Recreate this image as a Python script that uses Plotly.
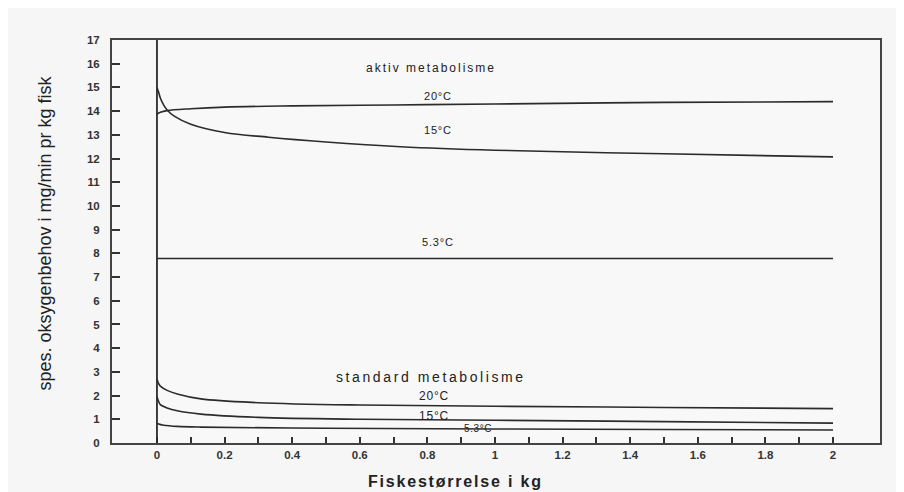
import plotly.graph_objects as go

# ---- data ----
aktiv_20_x = [0.0, 0.01, 0.03, 0.1, 0.2, 0.4, 0.7, 1.0, 1.5, 2.0]
aktiv_20_y = [13.88, 13.95, 14.02, 14.1, 14.17, 14.22, 14.26, 14.3, 14.37, 14.4]

aktiv_15_x = [0.0, 0.005, 0.01, 0.02, 0.03, 0.05, 0.1, 0.2, 0.33, 0.5, 0.72, 1.0, 1.5, 2.0]
aktiv_15_y = [15.0, 14.8, 14.55, 14.25, 14.05, 13.8, 13.45, 13.1, 12.9, 12.7, 12.5, 12.35, 12.2, 12.07]

aktiv_53_x = [0.0, 2.0]
aktiv_53_y = [7.78, 7.78]

std_20_x = [0.0, 0.005, 0.01, 0.03, 0.06, 0.13, 0.3, 0.6, 1.0, 1.5, 2.0]
std_20_y = [2.7, 2.5, 2.4, 2.22, 2.07, 1.86, 1.7, 1.6, 1.55, 1.5, 1.45]

std_15_x = [0.0, 0.005, 0.01, 0.03, 0.06, 0.13, 0.3, 0.6, 1.0, 1.5, 2.0]
std_15_y = [1.95, 1.75, 1.62, 1.48, 1.36, 1.22, 1.08, 1.0, 0.96, 0.9, 0.84]

std_53_x = [0.0, 0.005, 0.02, 0.06, 0.13, 0.5, 1.0, 1.5, 2.0]
std_53_y = [0.84, 0.8, 0.75, 0.7, 0.67, 0.62, 0.59, 0.57, 0.55]

x_tickvals = [round(i * 0.1, 1) for i in range(21)]
x_ticktext = ["0", "", "0.2", "", "0.4", "", "0.6", "", "0.8", "", "1", "", "1.2", "", "1.4", "", "1.6", "", "1.8", "", "2"]
y_tickvals = list(range(0, 18))

# text, x, y, font size, letter spacing (px)
labels = [
    ("aktiv metabolisme", 0.81, 15.8, 12, 2.0),
    ("20°C", 0.83, 14.64, 11, 0.8),
    ("15°C", 0.83, 13.2, 11, 0.8),
    ("5.3°C", 0.83, 8.5, 11, 0.8),
    ("standard metabolisme", 0.81, 2.78, 14, 2.6),
    ("20°C", 0.82, 1.98, 12, 0.8),
    ("15°C", 0.82, 1.14, 12, 0.8),
    ("5.3°C", 0.95, 0.6, 10, 0.6),
]

line_col = "#2b2b2b"
txt_col = "#222222"
fig = go.Figure()
for xs, ys in [(aktiv_20_x, aktiv_20_y), (aktiv_15_x, aktiv_15_y), (aktiv_53_x, aktiv_53_y),
               (std_20_x, std_20_y), (std_15_x, std_15_y), (std_53_x, std_53_y)]:
    fig.add_trace(go.Scatter(x=xs, y=ys, mode="lines", line=dict(color=line_col, width=1.6),
                             line_shape="spline", showlegend=False, hoverinfo="skip"))

# vertical line at x = 0 (curves rising towards the top)
fig.add_shape(type="line", xref="x", yref="y", x0=0, x1=0, y0=0, y1=17,
              line=dict(color=line_col, width=1.8))

for text, x, y, size, ls in labels:
    fig.add_annotation(x=x, y=y, xref="x", yref="y",
                       text=f'<span style="letter-spacing:{ls}px">{text}</span>',
                       showarrow=False,
                       font=dict(size=size, color=txt_col, family="Liberation Sans"))

fig.add_annotation(x=-0.087, y=0.52, xref="paper", yref="paper",
                   text="spes. oksygenbehov i mg/min pr kg fisk", textangle=-90,
                   showarrow=False, xanchor="center", yanchor="middle",
                   font=dict(size=18, color=txt_col, family="Liberation Sans"))
fig.add_annotation(x=0.447, y=0, xref="paper", yref="paper", yanchor="top", yshift=-28,
                   text='<span style="letter-spacing:1.8px">Fiskestørrelse i kg</span>',
                   showarrow=False,
                   font=dict(size=16, color=txt_col, family="Liberation Sans", weight="bold"))

fig.update_xaxes(range=[-0.133, 2.139], tickvals=x_tickvals, ticktext=x_ticktext,
                 ticks="inside", ticklen=6, tickwidth=1.5, tickcolor="#333",
                 showline=True, linecolor="#444", linewidth=2, mirror=True,
                 showgrid=False, zeroline=False,
                 tickfont=dict(size=11.5, color="#333", family="Liberation Sans", weight="bold"))
fig.update_yaxes(range=[0, 17], tickvals=y_tickvals,
                 ticks="inside", ticklen=8, tickwidth=1.5, tickcolor="#333",
                 showline=True, linecolor="#444", linewidth=2, mirror=True,
                 showgrid=False, zeroline=False, ticklabelstandoff=8,
                 tickfont=dict(size=11.5, color="#333", family="Liberation Sans", weight="bold"))

fig.update_layout(width=896, height=484,
                  margin=dict(l=104, r=24, t=32, b=49),
                  paper_bgcolor="#f6f6f6", plot_bgcolor="#f8f8f8",
                  font=dict(family="Liberation Sans"))

fig.write_html("out.html")
